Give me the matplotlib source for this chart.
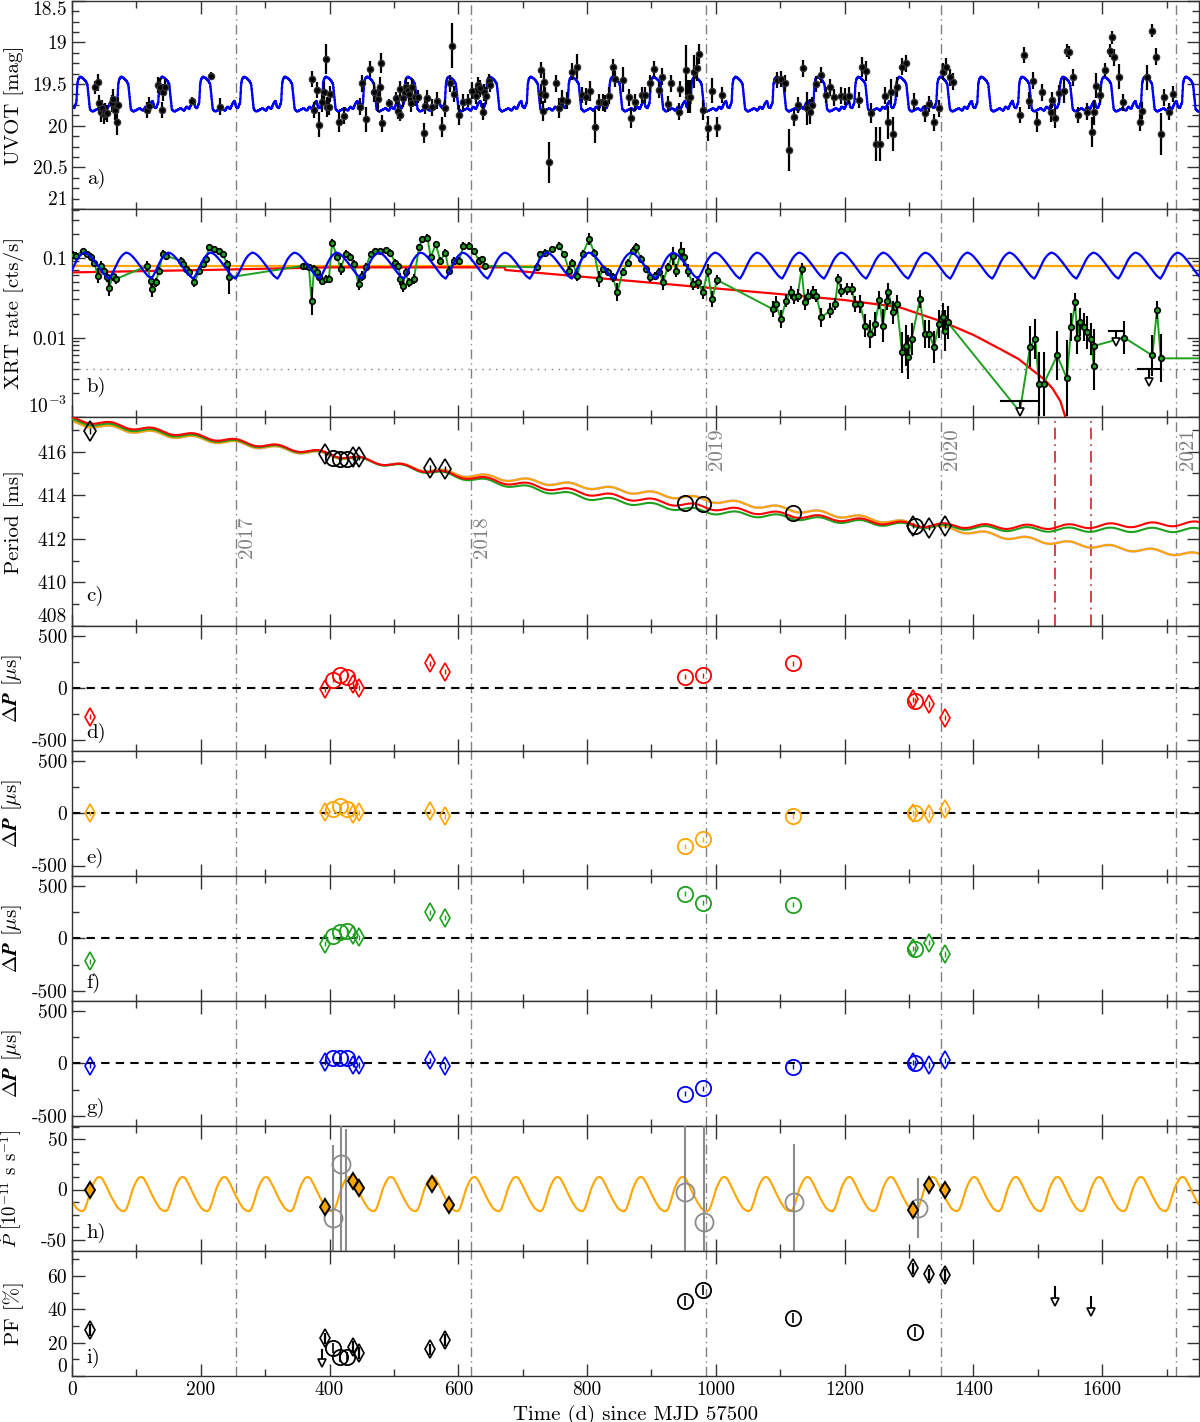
import numpy as np
import matplotlib
matplotlib.use("Agg")
import matplotlib.pyplot as plt
from matplotlib.mathtext import MathTextParser
from matplotlib.ticker import MultipleLocator, FixedLocator, FuncFormatter, NullFormatter, LogLocator

plt.rcParams['font.family'] = 'serif'
plt.rcParams['font.serif'] = ['cmr10', 'DejaVu Serif']
plt.rcParams['mathtext.fontset'] = 'cm'
plt.rcParams['axes.unicode_minus'] = False

# ---------------- data ----------------
year_x = [254, 619, 984, 1349, 1715]
year_lab = ['2017', '2018', '2019', '2020', '2021']
year_lab_y = [412.05, 412.05, 416.1, 416.1, 416.1]
pf_limit_x = [1527, 1582]

# a) UVOT magnitudes (day, mag, err)
uvot = [
    (36, 19.54, 0.08), (40, 19.48, 0.1), (42, 19.73, 0.1), (45, 19.83, 0.12), (47, 19.79, 0.1),
    (50, 19.86, 0.12), (52, 19.83, 0.1), (55, 19.85, 0.1), (62, 19.73, 0.1), (64, 19.68, 0.12),
    (67, 19.81, 0.12), (70, 19.96, 0.15), (72, 19.75, 0.1),
    (117, 19.81, 0.1), (120, 19.76, 0.1), (133, 19.51, 0.1), (137, 19.53, 0.1), (140, 19.81, 0.1),
    (142, 19.60, 0.1), (145, 19.54, 0.1), (186, 19.70, 0.05), (216, 19.40, 0.05), (230, 19.77, 0.1),
    (373, 19.44, 0.1), (376, 19.81, 0.1), (380, 19.57, 0.1), (383, 19.99, 0.15), (388, 19.71, 0.12),
    (391, 19.60, 0.12), (395, 19.20, 0.18), (396, 19.77, 0.12), (399, 19.77, 0.1), (401, 19.62, 0.1),
    (415, 19.95, 0.12), (422, 19.88, 0.1), (448, 19.77, 0.1), (450, 19.49, 0.1), (457, 19.92, 0.15),
    (463, 19.32, 0.1), (469, 19.60, 0.12), (476, 19.68, 0.15), (478, 19.53, 0.12), (480, 19.25, 0.12),
    (481, 19.97, 0.1), (492, 19.73, 0.05), (503, 19.67, 0.07), (506, 19.82, 0.1), (509, 19.87, 0.07),
    (510, 19.56, 0.1), (514, 19.67, 0.1), (517, 19.60, 0.1), (519, 19.53, 0.1), (522, 19.57, 0.1),
    (524, 19.62, 0.1), (526, 19.73, 0.1), (528, 19.53, 0.1), (532, 19.66, 0.1), (538, 19.65, 0.08),
    (546, 20.09, 0.12), (549, 19.76, 0.1), (552, 19.67, 0.1), (559, 19.78, 0.1), (567, 19.70, 0.1),
    (574, 20.01, 0.12), (580, 19.79, 0.1), (587, 19.49, 0.1), (590, 19.04, 0.27), (594, 19.62, 0.1),
    (601, 19.87, 0.12), (608, 19.72, 0.1), (615, 19.70, 0.08), (622, 19.58, 0.1), (628, 19.64, 0.1),
    (631, 19.51, 0.1), (634, 19.55, 0.1), (638, 19.83, 0.1), (640, 19.60, 0.1), (643, 19.64, 0.1),
    (647, 19.46, 0.08), (649, 19.51, 0.08),
    (728, 19.33, 0.1), (729, 19.62, 0.12), (731, 19.82, 0.12), (733, 19.47, 0.12), (734, 19.63, 0.1),
    (741, 20.44, 0.25), (751, 19.49, 0.1), (756, 19.79, 0.12), (761, 19.69, 0.12), (768, 19.70, 0.1),
    (777, 19.35, 0.1), (785, 19.29, 0.15), (792, 19.63, 0.1), (799, 19.65, 0.1), (805, 19.58, 0.12),
    (812, 20.01, 0.2), (818, 19.72, 0.1), (825, 19.72, 0.1), (828, 19.73, 0.1), (834, 19.64, 0.1),
    (840, 19.30, 0.1), (843, 19.44, 0.1), (855, 19.45, 0.15), (865, 19.66, 0.1), (868, 19.91, 0.12),
    (874, 19.72, 0.1), (886, 19.63, 0.1), (890, 19.63, 0.1), (898, 19.49, 0.1), (904, 19.32, 0.1),
    (911, 19.57, 0.1), (917, 19.41, 0.1), (925, 19.74, 0.1), (931, 19.49, 0.1), (942, 19.83, 0.1),
    (945, 19.56, 0.1), (953, 19.33, 0.3), (956, 19.65, 0.2), (960, 19.65, 0.2), (966, 19.35, 0.2),
    (970, 19.31, 0.15), (974, 19.14, 0.12), (980, 19.81, 0.12), (987, 20.03, 0.15), (994, 19.58, 0.15),
    (1001, 20.01, 0.12), (1009, 19.63, 0.1),
    (1095, 19.45, 0.1), (1101, 19.44, 0.1), (1107, 19.49, 0.1), (1114, 20.29, 0.25), (1121, 19.90, 0.1),
    (1127, 19.75, 0.1), (1135, 19.31, 0.1), (1141, 19.79, 0.2), (1146, 19.83, 0.15), (1150, 19.75, 0.1),
    (1156, 19.50, 0.1), (1164, 19.39, 0.1), (1171, 19.63, 0.1), (1178, 19.54, 0.1), (1184, 19.66, 0.1),
    (1194, 19.64, 0.1), (1200, 19.65, 0.1), (1206, 19.64, 0.1), (1222, 19.69, 0.1), (1227, 19.29, 0.12),
    (1233, 19.34, 0.12), (1241, 19.85, 0.12), (1248, 20.22, 0.2), (1255, 20.22, 0.2), (1262, 19.64, 0.1),
    (1268, 19.96, 0.2), (1272, 19.59, 0.15), (1275, 20.10, 0.2), (1282, 19.54, 0.12), (1289, 19.29, 0.1),
    (1296, 19.25, 0.1), (1307, 19.71, 0.1), (1325, 19.85, 0.1), (1331, 19.74, 0.1), (1339, 19.96, 0.1),
    (1346, 19.79, 0.1), (1353, 19.35, 0.1), (1358, 19.29, 0.1), (1363, 19.42, 0.1), (1368, 19.47, 0.1),
    (1472, 19.87, 0.1), (1478, 19.15, 0.1), (1486, 19.70, 0.1), (1492, 19.46, 0.1), (1499, 19.96, 0.12),
    (1506, 19.60, 0.1), (1520, 19.84, 0.12), (1522, 19.69, 0.1), (1527, 19.91, 0.12), (1533, 19.61, 0.1),
    (1541, 19.58, 0.15), (1545, 19.10, 0.08), (1549, 19.12, 0.08), (1554, 19.42, 0.1), (1562, 19.87, 0.1),
    (1576, 19.83, 0.1), (1584, 20.07, 0.18), (1587, 19.84, 0.15), (1590, 19.52, 0.15), (1597, 19.63, 0.1),
    (1605, 19.33, 0.08), (1612, 19.10, 0.08), (1615, 18.94, 0.08), (1619, 19.18, 0.1), (1626, 19.41, 0.15),
    (1632, 19.72, 0.1), (1658, 19.96, 0.1), (1662, 19.82, 0.1), (1670, 19.42, 0.15), (1677, 18.86, 0.08),
    (1683, 19.17, 0.1), (1692, 20.10, 0.25), (1696, 19.66, 0.1), (1704, 19.83, 0.1), (1710, 19.62, 0.1),
]

# optical model: one cycle profile (days after rise, mag)
opt_period = 63.6
opt_rise0 = 6.8
opt_prof_t = [0, 1.5, 3, 6, 10, 14, 17, 19, 21, 25, 30, 35, 40, 44, 48, 52, 55, 57, 60, 63.6]
opt_prof_m = [19.72, 19.50, 19.44, 19.41, 19.43, 19.46, 19.50, 19.65, 19.80, 19.83, 19.81, 19.79,
              19.82, 19.77, 19.80, 19.73, 19.70, 19.77, 19.79, 19.72]

# b) XRT rates (day, rate, relative error)
xrt = [
    (2, 0.108, 0.12), (6, 0.106, 0.12), (16.6, 0.122, 0.1), (24, 0.111, 0.1), (29.5, 0.101, 0.12),
    (34.7, 0.087, 0.12), (40, 0.0596, 0.25), (45, 0.079, 0.15), (50, 0.069, 0.15), (55, 0.0567, 0.15),
    (58, 0.0418, 0.25), (63, 0.0596, 0.15), (68, 0.0541, 0.15), (117, 0.079, 0.15), (122, 0.0516, 0.15),
    (125, 0.0406, 0.25), (130, 0.0491, 0.15), (135, 0.069, 0.12), (141, 0.111, 0.12), (146, 0.106, 0.12),
    (169, 0.0917, 0.12), (172, 0.0834, 0.12), (177, 0.0722, 0.12), (182, 0.0655, 0.12), (190, 0.0491, 0.15),
    (198, 0.069, 0.12), (203, 0.0834, 0.12), (208, 0.0963, 0.12), (213, 0.135, 0.1), (220, 0.128, 0.1),
    (228, 0.122, 0.1), (234, 0.111, 0.1), (241, 0.0834, 0.12), (244, 0.0567, 0.6),
    (358, 0.079, 0.1), (363, 0.079, 0.1), (368, 0.0757, 0.1), (372, 0.029, 0.5), (376, 0.0722, 0.12),
    (380, 0.0655, 0.12), (384, 0.0567, 0.12), (389, 0.0516, 0.12), (394, 0.0541, 0.12), (399, 0.0541, 0.12),
    (404, 0.155, 0.1), (412, 0.101, 0.12), (417, 0.0722, 0.2), (425, 0.111, 0.12), (432, 0.101, 0.12),
    (438, 0.0834, 0.12), (445, 0.0469, 0.2), (451, 0.0596, 0.15), (456, 0.0757, 0.12), (464, 0.111, 0.1),
    (471, 0.122, 0.1), (479, 0.122, 0.1), (487, 0.125, 0.1), (494, 0.116, 0.1), (502, 0.087, 0.12),
    (507, 0.079, 0.12), (510, 0.0541, 0.2), (514, 0.0447, 0.2), (518, 0.0655, 0.15), (523, 0.0491, 0.15),
    (531, 0.0541, 0.15), (539, 0.135, 0.1), (544, 0.171, 0.1), (552, 0.179, 0.1), (557, 0.101, 0.1),
    (565, 0.148, 0.1), (572, 0.0917, 0.1), (580, 0.116, 0.1), (585, 0.069, 0.15), (593, 0.0917, 0.12),
    (601, 0.0917, 0.12), (608, 0.141, 0.1), (616, 0.141, 0.1), (624, 0.122, 0.1), (632, 0.0917, 0.1),
    (637, 0.0963, 0.1), (642, 0.079, 0.1),
    (722, 0.0757, 0.12), (727, 0.111, 0.1), (735, 0.116, 0.1), (746, 0.128, 0.1), (756, 0.141, 0.1),
    (764, 0.111, 0.1), (772, 0.069, 0.15), (777, 0.087, 0.12), (785, 0.0596, 0.15), (793, 0.111, 0.12),
    (803, 0.171, 0.2), (811, 0.116, 0.12), (819, 0.0541, 0.25), (824, 0.0722, 0.12), (832, 0.0655, 0.12),
    (840, 0.0567, 0.15), (847, 0.0368, 0.3), (855, 0.0655, 0.12), (863, 0.087, 0.12), (871, 0.122, 0.12),
    (876, 0.135, 0.12), (884, 0.0963, 0.12), (892, 0.0722, 0.12), (897, 0.0567, 0.15), (905, 0.0596, 0.12),
    (912, 0.0655, 0.12), (918, 0.0491, 0.25), (925, 0.0757, 0.15), (933, 0.106, 0.3), (938, 0.069, 0.2),
    (946, 0.122, 0.3), (951, 0.101, 0.3), (956, 0.069, 0.2), (964, 0.0469, 0.2), (972, 0.0491, 0.2),
    (980, 0.0368, 0.2), (987, 0.069, 0.2), (994, 0.0305, 0.25), (1002, 0.0526, 0.15),
    (1088, 0.0228, 0.25), (1093, 0.0263, 0.25), (1101, 0.0171, 0.3), (1109, 0.029, 0.2), (1116, 0.0368, 0.2),
    (1122, 0.0319, 0.2), (1127, 0.0335, 0.2), (1133, 0.0722, 0.2), (1138, 0.0276, 0.25), (1143, 0.0335, 0.2),
    (1151, 0.0368, 0.2), (1156, 0.0335, 0.2), (1164, 0.0179, 0.3), (1177, 0.0217, 0.25), (1185, 0.0263, 0.2),
    (1190, 0.0541, 0.15), (1195, 0.0387, 0.2), (1203, 0.0406, 0.2), (1211, 0.0406, 0.2), (1216, 0.0263, 0.25),
    (1224, 0.0263, 0.3), (1232, 0.0141, 0.4), (1240, 0.0111, 0.5), (1247, 0.0148, 0.4), (1254, 0.0296, 0.3),
    (1259, 0.0141, 0.6), (1265, 0.029, 0.3), (1268, 0.0368, 0.3), (1275, 0.0207, 0.4), (1281, 0.0263, 0.3),
    (1289, 0.00655, 0.8), (1296, 0.0079, 0.8), (1299, 0.0057, 0.9), (1304, 0.0096, 0.6), (1317, 0.0305, 0.3),
    (1324, 0.0111, 0.5), (1331, 0.0111, 0.5), (1339, 0.0076, 0.6), (1346, 0.0148, 0.5), (1352, 0.0179, 0.5),
    (1356, 0.0122, 0.8), (1360, 0.0155, 0.6),
    (1488, 0.0077, 0.8), (1496, 0.0096, 0.8), (1502, 0.00263, 1.5), (1509, 0.00263, 1.5), (1530, 0.00597, 1.0),
    (1545, 0.00311, 2.0), (1552, 0.0135, 0.5), (1558, 0.0276, 0.3), (1561, 0.01, 0.6), (1565, 0.0155, 0.5),
    (1571, 0.0135, 0.5), (1577, 0.0116, 0.6), (1582, 0.0096, 0.6), (1587, 0.0044, 1.0), (1588, 0.0079, 0.6),
    (1634, 0.01, 0.6), (1678, 0.00597, 0.8), (1685, 0.0222, 0.3), (1691, 0.0055, 1.0),
]
# upper limits (day, limit, arrow tip, x-from, x-to)
xrt_ul = [(1472, 0.00163, 0.00118, 1443, 1502), (1621, 0.0122, 0.0087, 1611, 1632),
          (1672, 0.0041, 0.00276, 1655, 1689)]
xrt_line_extra = [(1472, 0.00118), (1760, 0.0055)]
xrt_floor = 0.0041
xrt_const = 0.079

# red decay model nodes (day, rate)
decay_x = [0, 200, 400, 672, 673, 900, 1127, 1200, 1285, 1352, 1400, 1440, 1470, 1492, 1510, 1523, 1535, 1543, 1552]
decay_y = [0.0655, 0.070, 0.0757, 0.0757, 0.0702, 0.0486, 0.0335, 0.0295, 0.024, 0.0158, 0.0108, 0.0073,
           0.0054, 0.0039, 0.0030, 0.0023, 0.0016, 0.0010, 0.0006]

# blue X-ray modulation: one cycle profile (phase from minimum, rate)
xmod_period = 65.3
xmod_min0 = 58.0
xmod_ph = [0, 0.05, 0.1, 0.15, 0.2, 0.25, 0.3, 0.35, 0.4, 0.45, 0.5, 0.55, 0.6, 0.65, 0.7, 0.75, 0.8, 0.85, 0.9, 0.95, 1.0]
xmod_rate = [0.0547, 0.060, 0.068, 0.077, 0.088, 0.098, 0.106, 0.112, 0.116, 0.114, 0.110, 0.104, 0.097,
             0.090, 0.083, 0.076, 0.070, 0.065, 0.060, 0.057, 0.0547]

# c) period model trends (day, ms) and orbital wiggle
trend_x = [0, 100, 250, 400, 500, 600, 800, 984, 1130, 1306, 1450, 1522, 1750]
red_trend = [417.5, 417.1, 416.5, 415.9, 415.4, 414.9, 414.1, 413.45, 413.05, 412.65, 412.55, 412.55, 412.7]
green_trend = [417.42, 417.02, 416.45, 415.88, 415.38, 414.85, 413.9, 413.25, 412.95, 412.6, 412.45, 412.42, 412.4]
orange_trend = [417.32, 416.95, 416.4, 415.85, 415.4, 414.97, 414.4, 413.8, 413.3, 412.68, 412.1, 411.85, 411.25]
orb_period = 64.7
wig_peak = 60.0
wig_amp = 0.1

# pulse epochs: diamonds and circles
dia_x = [28, 393, 436, 445, 556, 580, 1306, 1331, 1356]
cir_x = [406, 416, 427, 952, 980, 1120, 1310]
dia_P = [416.95, 415.9, 415.75, 415.75, 415.25, 415.2, 412.6, 412.5, 412.6]
cir_P = [415.7, 415.65, 415.65, 413.65, 413.6, 413.2, 412.6]

# d-g) residuals in microseconds
dia_res = {
    'red':    [-270, -10, 40, 7, 240, 160, -105, -150, -280],
    'orange': [0, 12, -10, 12, 22, -25, 5, -5, 40],
    'green':  [-220, -50, 30, 10, 250, 200, -95, -40, -150],
    'blue':   [-20, 15, -10, -15, 30, -25, 10, -15, 30],
}
cir_res = {
    'red':    [85, 125, 112, 112, 125, 240, -120],
    'orange': [45, 70, 38, -315, -250, -25, 0],
    'green':  [20, 65, 75, 430, 345, 325, -100],
    'blue':   [50, 55, 50, -290, -240, -30, 5],
}

# h) Pdot
pdot_dia_x = [28, 393, 436, 445, 559, 585, 1306, 1331, 1356]
pdot_dia = [0, -17, 8, 2, 5.6, -15, -20, 4, 0]
pdot_cir_x = [406, 418, 426, 952, 982, 1122, 1314]
pdot_cir = [-28, 25, -90, -2, -32, -12, -18.5]
pdot_cir_err = [72, 150, 150, 150, 150, 57, 30]
pdot_period = 64.7
pdot_min0 = 16.5
pdot_ph = [0, 0.05, 0.1, 0.15, 0.2, 0.25, 0.3, 0.35, 0.41, 0.47, 0.55, 0.65, 0.75, 0.85, 0.93, 1.0]
pdot_val = [-21.5, -19.5, -14, -7, 0, 5, 9, 11.8, 12.5, 11, 5, -4, -12, -18.5, -21, -21.5]

# i) pulsed fraction
pf_dia = [27.6, 22.6, 17.6, 14, 16, 21.6, 64.6, 61, 60.6]
pf_cir = [16.6, 11.6, 11.6, 45, 51.6, 34.8, 26.6]
pf_ul = [(389, 15.6, 7.8), (1527, 53.6, 44.6), (1582, 47.6, 38.6)]

# bold italic Delta P if this matplotlib knows \boldsymbol
dp_label = r'$\boldsymbol{\Delta P}$ [$\mu$s]'
try:
    MathTextParser('path').parse(r'$\boldsymbol{\Delta P}$')
except Exception:
    dp_label = r'$\mathbf{\Delta P}$ [$\mu$s]'

# ---------------- figure ----------------
fig, axes = plt.subplots(9, 1, sharex=True, figsize=(12, 14.22), dpi=100,
                         gridspec_kw=dict(height_ratios=[5, 5, 5, 3, 3, 3, 3, 3, 3], hspace=0,
                                          left=0.06, right=0.999, top=0.9995, bottom=0.0323))

cols = {'red': '#ff0000', 'orange': '#ffa500', 'green': '#1ea01e', 'blue': '#0000ff'}
fmt = FuncFormatter(lambda v, p: f'{v:g}')
t = np.linspace(0, 1750, 3501)

for ax in axes:
    ax.set_xlim(0, 1750)
    ax.xaxis.set_major_locator(MultipleLocator(200))
    ax.xaxis.set_minor_locator(MultipleLocator(100))
    ax.tick_params(which='both', direction='in', top=True, right=True, labelsize=14,
                   color='#333333', width=1)
    ax.tick_params(which='major', length=9)
    ax.tick_params(which='minor', length=5)
    for s in ax.spines.values():
        s.set_color('#333333')
        s.set_linewidth(1)
    for yx in year_x:
        ax.axvline(yx, color='#808080', lw=1, ls=(0, (7, 3, 1, 3)), zorder=1)

# a) UVOT
ax = axes[0]
u = np.array(uvot)
ph = (t - opt_rise0) % opt_period
ax.step(t, np.interp(ph, opt_prof_t, opt_prof_m), where='mid', color=cols['blue'], lw=1.6, zorder=2)
ax.errorbar(u[:, 0], u[:, 1], yerr=u[:, 2], fmt='o', color='k', ms=4.5, mec='#333333',
            elinewidth=1.6, capsize=0, zorder=3)
ax.set_ylim(21, 18.5)
ax.yaxis.set_major_locator(MultipleLocator(0.5))
ax.yaxis.set_minor_locator(MultipleLocator(0.125))
ax.yaxis.set_major_formatter(fmt)
ax.set_ylabel('UVOT [mag]', fontsize=15)

# b) XRT
ax = axes[1]
ax.set_yscale('log')
xr = np.array(xrt)
ax.axhline(xrt_floor, color='#808080', lw=1, ls=(0, (1, 4)))
ax.axhline(xrt_const, color=cols['orange'], lw=1.6, zorder=2)
ax.plot(decay_x, decay_y, color=cols['red'], lw=1.6, zorder=2)
line_pts = sorted([(p[0], p[1]) for p in xrt] + xrt_line_extra)
lp = np.array(line_pts)
ax.plot(lp[:, 0], lp[:, 1], color=cols['green'], lw=1.4, zorder=3)
lo = xr[:, 1] - xr[:, 1] / (1 + xr[:, 2])
hi = xr[:, 1] * xr[:, 2]
ax.errorbar(xr[:, 0], xr[:, 1], yerr=[lo, hi], fmt='o', ms=4, mfc=cols['green'], mec='k', mew=1.2,
            ecolor='k', elinewidth=1.5, capsize=0, zorder=4)
for x0, lim, tip, xa, xb in xrt_ul:
    ax.plot([xa, xb], [lim, lim], color='k', lw=1.5, zorder=4)
    ax.plot([x0, x0], [lim, tip], color='k', lw=1.5, zorder=4)
    ax.plot([x0], [tip], marker='v', ms=6, mfc='white', mec='k', mew=1.2, zorder=5)
xph = ((t - xmod_min0) / xmod_period) % 1.0
ax.plot(t, np.interp(xph, xmod_ph, xmod_rate), color=cols['blue'], lw=1.6, zorder=5)
ax.set_ylim(1e-3, 0.406)
ax.yaxis.set_major_locator(FixedLocator([1e-3, 1e-2, 1e-1]))
ax.yaxis.set_major_formatter(FuncFormatter(lambda v, p: {1e-3: r'$10^{-3}$', 1e-2: '0.01', 1e-1: '0.1'}.get(v, '')))
ax.yaxis.set_minor_locator(LogLocator(base=10, subs=np.arange(2, 10)))
ax.yaxis.set_minor_formatter(NullFormatter())
ax.set_ylabel('XRT rate [cts/s]', fontsize=15)

# c) Period
ax = axes[2]
wig = wig_amp * np.cos(2 * np.pi * (t - wig_peak) / orb_period)
ax.plot(t, np.interp(t, trend_x, orange_trend) + wig, color='#9090ff', lw=1.9, alpha=0.6, zorder=2)
ax.plot(t, np.interp(t, trend_x, orange_trend) + wig, color=cols['orange'], lw=1.5, zorder=2)
ax.plot(t, np.interp(t, trend_x, green_trend) + wig, color=cols['green'], lw=1.5, zorder=3)
ax.plot(t, np.interp(t, trend_x, red_trend) + wig, color=cols['red'], lw=1.5, zorder=4)
for lx in pf_limit_x:
    ax.axvline(lx, color='#c82828', lw=1.2, ls=(0, (7, 3, 1, 3)), zorder=1)
ax.errorbar(dia_x, dia_P, yerr=0.12, fmt='d', ms=10, mfc='none', mec='k', mew=1.2, ecolor='k',
            elinewidth=1, capsize=0, zorder=6)
ax.plot(cir_x, cir_P, 'o', ms=11, mfc='none', mec='k', mew=1.3, zorder=6)
for yx, yl, yy in zip(year_x, year_lab, year_lab_y):
    ax.text(yx + 4, yy, yl, rotation=90, ha='left', va='center', color='#808080', fontsize=15)
ax.set_ylim(408, 417.57)
ax.yaxis.set_major_locator(MultipleLocator(2))
ax.yaxis.set_minor_locator(MultipleLocator(1))
ax.yaxis.set_major_formatter(fmt)
ax.set_ylabel('Period [ms]', fontsize=15)

# d-g) residuals
for ax, key in zip(axes[3:7], ['red', 'orange', 'green', 'blue']):
    c = cols[key]
    ax.axhline(0, color='k', lw=1.5, ls=(0, (4, 3)), zorder=2)
    ax.errorbar(dia_x, dia_res[key], yerr=25, fmt='d', ms=9, mfc='none', mec=c, mew=1.2,
                ecolor=c, elinewidth=1, capsize=0, zorder=4)
    ax.errorbar(cir_x, cir_res[key], yerr=25, fmt='o', ms=11, mfc='none', mec=c, mew=1.3,
                ecolor=c, elinewidth=1, capsize=0, zorder=4)
    ax.set_ylim(-600, 600)
    ax.yaxis.set_major_locator(MultipleLocator(500))
    ax.yaxis.set_minor_locator(MultipleLocator(250))
    ax.yaxis.set_major_formatter(fmt)
    ax.set_ylabel(dp_label, fontsize=15)

# h) Pdot
ax = axes[7]
pph = ((t - pdot_min0) / pdot_period) % 1.0
ax.plot(t, np.interp(pph, pdot_ph, pdot_val), color=cols['orange'], lw=1.5, zorder=2)
ax.errorbar(pdot_cir_x, pdot_cir, yerr=pdot_cir_err, fmt='o', ms=13, mfc='none', mec='#8c8c8c', mew=1.3,
            ecolor='#8c8c8c', elinewidth=1.5, capsize=0, zorder=3)
ax.errorbar(pdot_dia_x, pdot_dia, yerr=4, fmt='d', ms=8, mfc=cols['orange'], mec='k', mew=1.4,
            ecolor='k', elinewidth=1.2, capsize=0, zorder=4)
ax.set_ylim(-61, 63)
ax.yaxis.set_major_locator(MultipleLocator(50))
ax.yaxis.set_minor_locator(MultipleLocator(12.5))
ax.yaxis.set_major_formatter(fmt)
ax.set_ylabel(r'$\dot{P}$ [$10^{-11}$ s s$^{-1}$]', fontsize=13.5)

# i) PF
ax = axes[8]
ax.errorbar(dia_x, pf_dia, yerr=3.5, fmt='d', ms=9, mfc='none', mec='k', mew=1.2, ecolor='k',
            elinewidth=1.6, capsize=0, zorder=4)
ax.errorbar(cir_x, pf_cir, yerr=3, fmt='o', ms=11, mfc='none', mec='k', mew=1.3, ecolor='k',
            elinewidth=1.2, capsize=0, zorder=4)
for x0, top, tip in pf_ul:
    ax.plot([x0, x0], [top, tip], color='k', lw=1.5)
    ax.plot([x0], [tip], marker='v', ms=6, mfc='white', mec='k', mew=1.2)
ax.set_ylim(0, 75)
ax.yaxis.set_major_locator(MultipleLocator(20))
ax.yaxis.set_minor_locator(MultipleLocator(10))
ax.yaxis.set_major_formatter(fmt)
ax.set_ylabel('PF [%]', fontsize=15)
ax.set_xlabel('Time (d) since MJD 57500', fontsize=15)
ax.xaxis.set_major_formatter(fmt)

for ax, lab in zip(axes, 'abcdefghi'):
    ax.text(0.013, 0.145, lab + ')', transform=ax.transAxes, fontsize=15, va='center', ha='left')
    ax.yaxis.set_label_coords(-0.043, 0.5)

# nudge the tick labels that sit exactly on a panel edge
for ax in axes:
    lo_, hi_ = sorted(ax.get_ylim())
    for tick, loc in zip(ax.yaxis.get_major_ticks(), ax.yaxis.get_majorticklocs()):
        if np.isclose(loc, lo_):
            tick.label1.set_va('bottom' if not ax.yaxis_inverted() else 'top')
        elif np.isclose(loc, hi_):
            tick.label1.set_va('top' if not ax.yaxis_inverted() else 'bottom')

fig.savefig('out.png', dpi=100)
